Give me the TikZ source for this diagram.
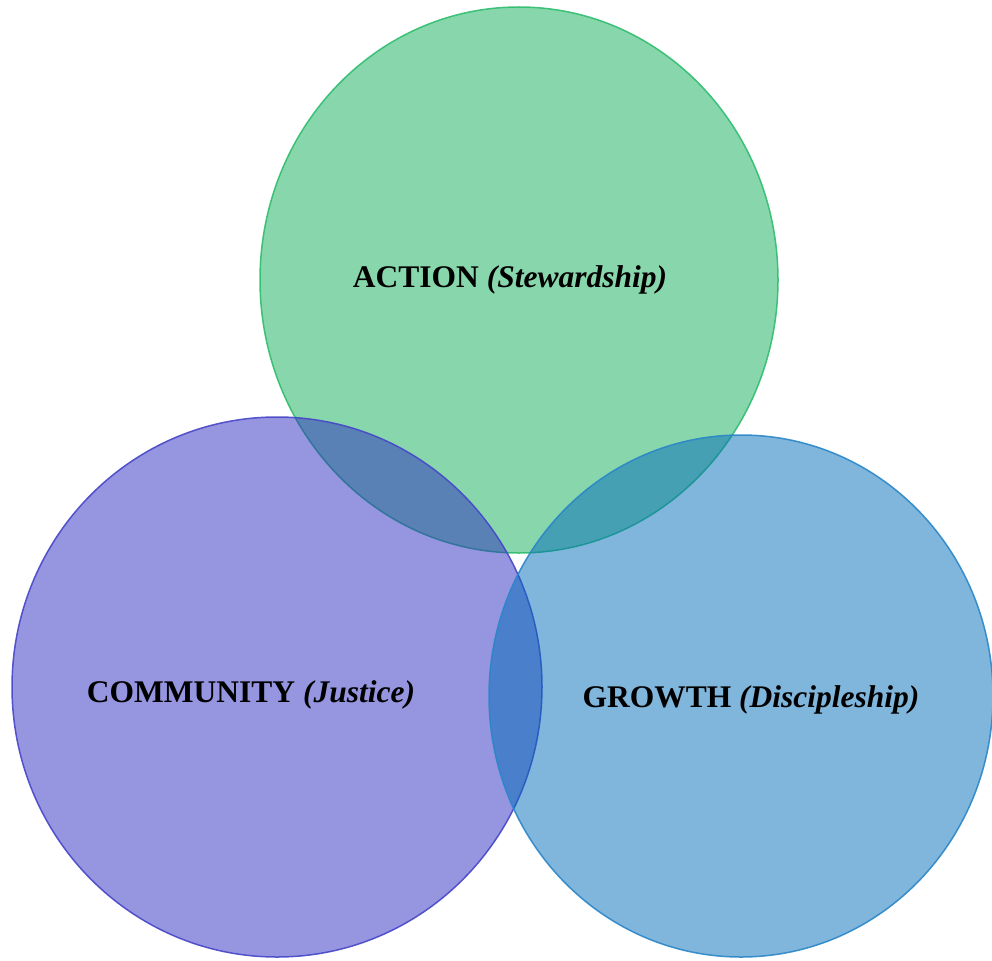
\documentclass[tikz,border=0pt]{standalone}
\usepackage{fontspec}
\setmainfont{Liberation Serif}
\definecolor{actionfill}{RGB}{17,175,89}
\definecolor{actionline}{RGB}{46,189,110}
\definecolor{communityfill}{RGB}{43,43,193}
\definecolor{communityline}{RGB}{70,70,200}
\definecolor{growthfill}{RGB}{1,107,185}
\definecolor{growthline}{RGB}{42,134,200}

\begin{document}
\begin{tikzpicture}[x=1pt,y=-1pt,
    ring/.style={fill opacity=0.5,draw opacity=0.9,line width=1.5pt},
    lbl/.style={anchor=base,font=\fontsize{31.5}{36}\selectfont\bfseries}]
    \useasboundingbox (0,0) rectangle (992,960);
    % the three circles
    \draw[ring,fill=actionfill,draw=actionline] (519,280) ellipse [x radius=259,y radius=273];
    \draw[ring,fill=communityfill,draw=communityline] (277,687) ellipse [x radius=265,y radius=270];
    \draw[ring,fill=growthfill,draw=growthline] (741,696) ellipse [x radius=252,y radius=261];
    % labels
    \node[lbl](action) at (510,287){ACTION \textit{(Stewardship)}};
    \node[lbl](community) at (251,702){COMMUNITY \textit{(Justice)}};
    \node[lbl](growth) at (751,707){GROWTH \textit{(Discipleship)}};
\end{tikzpicture}
\end{document}
